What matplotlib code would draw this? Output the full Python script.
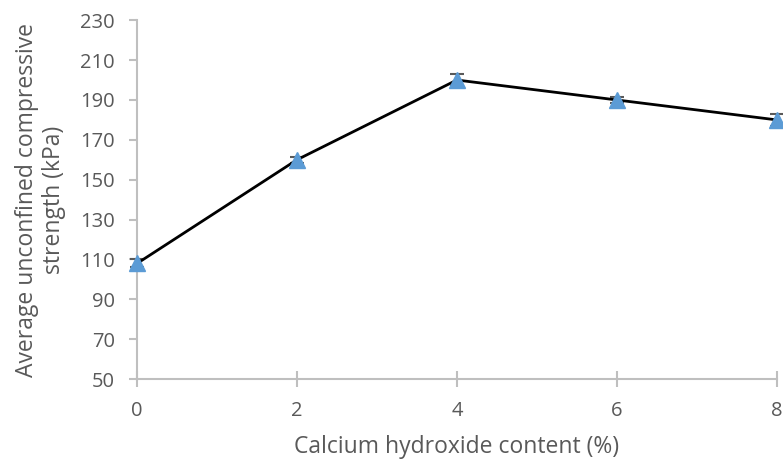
import matplotlib.pyplot as plt
import numpy as np

plt.rcParams['font.family'] = ['Open Sans', 'DejaVu Sans']

content = [0, 2, 4, 6, 8]
strength = [108, 160, 200, 190, 180]
err = [2, 1.5, 3, 1.5, 3]

fig = plt.figure(figsize=(7.83, 4.59), dpi=100)
ax = fig.add_axes([0.175, 0.174, 0.817, 0.782])

ax.errorbar(content, strength, yerr=err, color='black', lw=2,
            ecolor='#595959', elinewidth=1.5, capsize=5, capthick=1.5,
            marker='^', markersize=11, markerfacecolor='#5B9BD5',
            markeredgecolor='#5B9BD5', zorder=3, clip_on=False)

ax.set_xlim(0, 8)
ax.set_ylim(50, 230)
ax.set_xticks(np.arange(0, 9, 2))
ax.set_yticks(np.arange(50, 231, 20))

for s in ['top', 'right']:
    ax.spines[s].set_visible(False)
for s in ['left', 'bottom']:
    ax.spines[s].set_color('#BFBFBF')
    ax.spines[s].set_linewidth(1.5)
ax.spines['bottom'].set_zorder(1)

ax.tick_params(axis='y', direction='out', length=6, width=1.5, color='#BFBFBF',
               labelsize=14.5, labelcolor='#595959', pad=10)
ax.tick_params(axis='x', direction='inout', length=12, width=1.5, color='#BFBFBF',
               labelsize=14.5, labelcolor='#595959', pad=10)

ax.set_xlabel('Calcium hydroxide content (%)', fontsize=16.5, color='#595959', labelpad=10)
ax.set_ylabel('Average unconfined compressive\nstrength (kPa)', fontsize=16.5,
              color='#595959', labelpad=10)

plt.savefig('out.png')
